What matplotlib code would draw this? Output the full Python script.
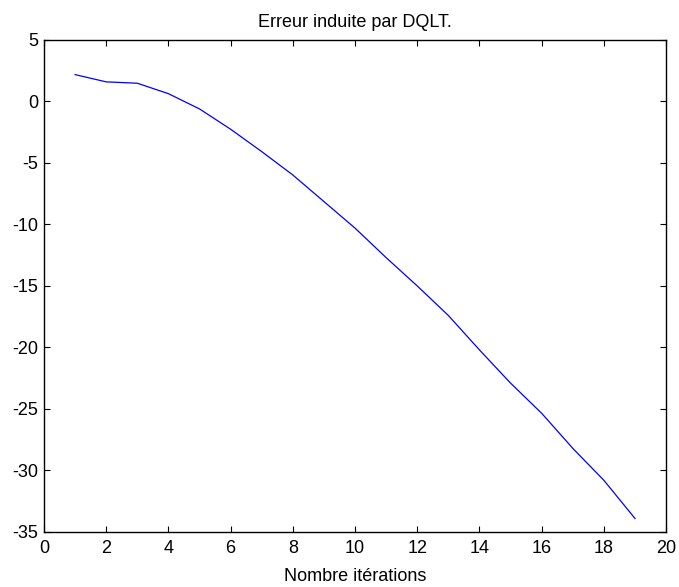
import numpy as np
import matplotlib.pyplot as plt

plt.rcParams['font.family'] = ['Liberation Sans', 'DejaVu Sans']
plt.rcParams['font.size'] = 13
plt.rcParams['axes.unicode_minus'] = False

iterations = list(range(1, 20))
erreur = [2.18, 1.59, 1.48, 0.63, -0.61, -2.26, -4.08, -5.98, -8.14, -10.3,
          -12.7, -15.0, -17.4, -20.2, -22.9, -25.35, -28.2, -30.8, -33.9]

fig = plt.figure(figsize=(6.79, 5.87), dpi=100)
ax = fig.add_axes([0.0648, 0.0937, 0.9162, 0.8383])

ax.plot(iterations, erreur, color='blue', lw=0.9)

ax.set_xlim(0, 20)
ax.set_ylim(-35, 5)
ax.set_xticks(np.arange(0, 21, 2))
ax.set_yticks(np.arange(-35, 6, 5))
ax.tick_params(direction='in', top=True, right=True, length=4, width=0.8)
ax.tick_params(axis='x', pad=6)
ax.tick_params(axis='y', pad=4)
for s in ax.spines.values():
    s.set_linewidth(1.0)

ax.set_title("Erreur induite par DQLT.", fontsize=13, pad=9.5)
ax.set_xlabel("Nombre itérations", fontsize=13, labelpad=7.5)

fig.savefig("out.png", dpi=100)
